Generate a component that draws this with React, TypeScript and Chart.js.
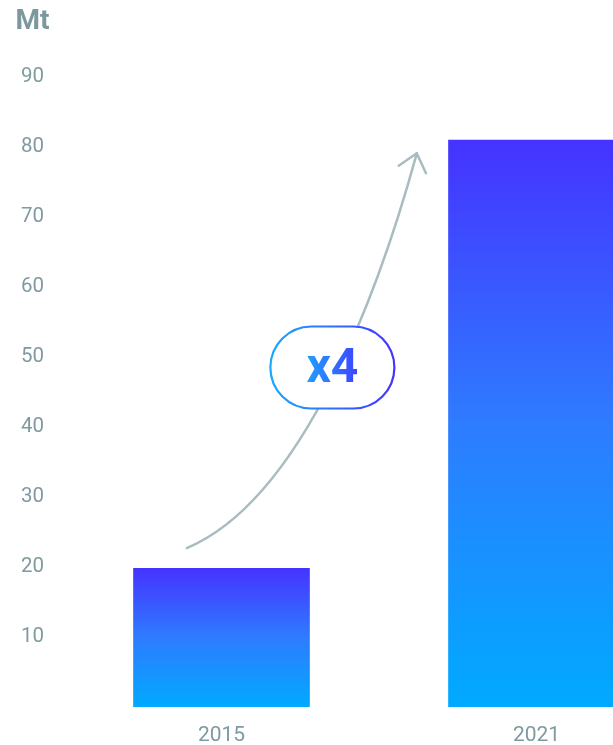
import React, { useEffect, useRef } from 'react';
import { Chart, registerables } from 'chart.js';

Chart.register(...registerables);

// ---- data ----
const categories = ['2015', '2021'];
const values = [19.8, 81];
const yMin = 0;
const yMax = 90;
const yStep = 10;
const unitLabel = 'Mt';
const growthLabel = 'x4';
// annotation curve (category-index position, value) control points
const arrowCatPos = [-0.11, 0.27, 0.51, 0.62];
const arrowValues = [22.7, 29.9, 61.1, 79.1];
const badgeCatPos = 0.352;
const badgeValue = 48.5;

// ---- styles ----
const TICK_COLOR = '#7F9AA0';
const ARROW_COLOR = '#A9BCBF';
const PURPLE = '#4533FF';
const CYAN = '#00AAFF';
const FONT = 'Roboto';

const overlayPlugin = {
  id: 'overlay',
  afterDatasetsDraw(chart: any) {
    const { ctx } = chart;
    const xs = chart.scales.x;
    const ys = chart.scales.y;
    const c0 = xs.getPixelForValue(0);
    const c1 = xs.getPixelForValue(1);
    const px = (f: number) => c0 + f * (c1 - c0);
    const py = (v: number) => ys.getPixelForValue(v);

    ctx.save();
    // curve
    const P = arrowCatPos.map((f, i) => [px(f), py(arrowValues[i])]);
    ctx.strokeStyle = ARROW_COLOR;
    ctx.lineWidth = 2.5;
    ctx.lineCap = 'round';
    ctx.lineJoin = 'round';
    ctx.beginPath();
    ctx.moveTo(P[0][0], P[0][1]);
    ctx.bezierCurveTo(P[1][0], P[1][1], P[2][0], P[2][1], P[3][0], P[3][1]);
    ctx.stroke();
    // arrow head
    const dx = P[3][0] - P[2][0];
    const dy = P[3][1] - P[2][1];
    const back = Math.atan2(-dy, -dx);
    const wing = 22;
    const spread = (40 * Math.PI) / 180;
    ctx.beginPath();
    ctx.moveTo(P[3][0] + wing * Math.cos(back + spread), P[3][1] + wing * Math.sin(back + spread));
    ctx.lineTo(P[3][0], P[3][1]);
    ctx.lineTo(P[3][0] + wing * Math.cos(back - spread), P[3][1] + wing * Math.sin(back - spread));
    ctx.stroke();

    // badge
    const cx = px(badgeCatPos);
    const cy = py(badgeValue);
    const w = 124;
    const h = 82;
    const r = h / 2;
    const left = cx - w / 2;
    const right = cx + w / 2;
    const top = cy - h / 2;
    const bottom = cy + h / 2;
    ctx.beginPath();
    ctx.moveTo(left + r, top);
    ctx.lineTo(right - r, top);
    ctx.arc(right - r, cy, r, -Math.PI / 2, Math.PI / 2);
    ctx.lineTo(left + r, bottom);
    ctx.arc(left + r, cy, r, Math.PI / 2, (3 * Math.PI) / 2);
    ctx.closePath();
    ctx.fillStyle = '#ffffff';
    ctx.fill();
    const g = ctx.createLinearGradient(left, 0, right, 0);
    g.addColorStop(0, '#1AA8FF');
    g.addColorStop(1, '#4533FF');
    ctx.strokeStyle = g;
    ctx.lineWidth = 2.2;
    ctx.stroke();

    const tg = ctx.createLinearGradient(cx - 28, 0, cx + 28, 0);
    tg.addColorStop(0, '#1EA2FF');
    tg.addColorStop(1, '#4040FF');
    ctx.fillStyle = tg;
    ctx.font = `bold 48px ${FONT}`;
    ctx.textAlign = 'center';
    ctx.textBaseline = 'middle';
    ctx.fillText(growthLabel, cx, cy + 2);

    // unit label
    ctx.fillStyle = '#7C989D';
    ctx.font = `bold 28px ${FONT}`;
    ctx.textAlign = 'left';
    ctx.textBaseline = 'alphabetic';
    ctx.fillText(unitLabel, 15.5, 28.5);
    ctx.restore();
  },
};

export default function App() {
  const ref = useRef<HTMLCanvasElement | null>(null);

  useEffect(() => {
    if (!ref.current) return;
    const chart = new Chart(ref.current, {
      type: 'bar',
      data: {
        labels: categories,
        datasets: [
          {
            data: values,
            barThickness: 176,
            borderWidth: 0,
            backgroundColor: (context: any) => {
              const ch = context.chart;
              const ys = ch.scales && ch.scales.y;
              if (!ys || context.type !== 'data') return PURPLE;
              const v = values[context.dataIndex];
              const t = ys.getPixelForValue(v);
              const b = ys.getPixelForValue(0);
              if (!isFinite(t) || !isFinite(b) || t === b) return PURPLE;
              const g = ch.ctx.createLinearGradient(0, t, 0, b);
              g.addColorStop(0, '#4533FF');
              g.addColorStop(0.5, '#2E7CFF');
              g.addColorStop(1, CYAN);
              return g;
            },
          },
        ],
      },
      options: {
        responsive: false,
        animation: false,
        layout: { padding: { top: 77, right: 6, left: 0, bottom: 0 } },
        plugins: {
          legend: { display: false },
          tooltip: { enabled: false },
          title: { display: false },
        },
        scales: {
          x: {
            grid: { display: false, drawTicks: false },
            border: { display: false },
            ticks: {
              color: TICK_COLOR,
              font: { family: FONT, size: 21 },
              padding: 16,
            },
            afterFit: (s: any) => {
              s.height = 38;
            },
          },
          y: {
            min: yMin,
            max: yMax,
            grid: { display: false, drawTicks: false },
            border: { display: false },
            ticks: {
              stepSize: yStep,
              color: TICK_COLOR,
              font: { family: FONT, size: 20.5 },
              padding: 20,
              callback: (v: any) => (v === 0 ? '' : String(v)),
            },
            afterFit: (s: any) => {
              s.width = 64;
            },
          },
        },
      },
      plugins: [overlayPlugin],
    });
    if ((document as any).fonts && (document as any).fonts.ready) {
      (document as any).fonts.ready.then(() => {
        try {
          chart.update();
        } catch (e) {}
      });
    }
    return () => chart.destroy();
  }, []);

  return (
    <div
      style={{
        position: 'fixed',
        left: 0,
        top: 0,
        width: 613,
        height: 745,
        overflow: 'hidden',
        background: '#ffffff',
      }}
    >
      <canvas ref={ref} width={700} height={745} style={{ display: 'block' }} />
    </div>
  );
}
